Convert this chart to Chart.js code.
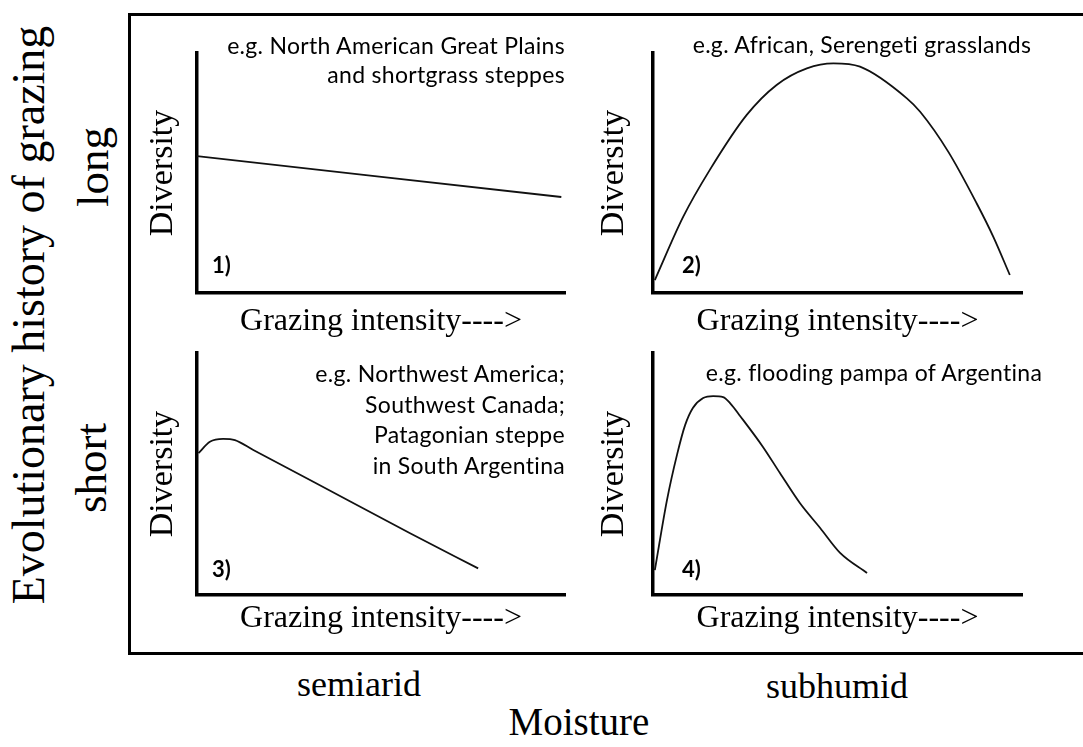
<!DOCTYPE html>
<html>
<head>
<meta charset="utf-8">
<script src="https://cdn.jsdelivr.net/npm/chart.js@4.4.1/dist/chart.umd.min.js"></script>
<style>
  body { margin: 0; background: #fff; width: 1083px; height: 747px; position: relative; overflow: hidden; font-family: 'Liberation Serif', 'Times New Roman', serif; color: #000; }
  .frame { position: absolute; left: 128px; top: 13px; width: 1000px; height: 642px; box-sizing: border-box; border: 3.5px solid #000; border-right: none; }
  canvas { position: absolute; }
  .note { position: absolute; font-family: Lato, sans-serif; font-size: 23px; letter-spacing: 0.3px; line-height: 29px; white-space: nowrap; }
  .num { position: absolute; font-family: Lato, sans-serif; font-weight: 700; font-size: 22px; line-height: 22px; }
  .lbl { position: absolute; white-space: nowrap; line-height: 1; transform: translate(-50%, -50%); }
  .rot { transform: translate(-50%, -50%) rotate(-90deg); }
</style>
</head>
<body>
<div class="frame"></div>

<canvas id="p1" width="424" height="298" style="left:146px; top:40px;"></canvas>
<canvas id="p2" width="430" height="298" style="left:597px; top:40px;"></canvas>
<canvas id="p3" width="424" height="295" style="left:146px; top:340px;"></canvas>
<canvas id="p4" width="430" height="295" style="left:597px; top:340px;"></canvas>

<div class="note" style="right:518px; top:31px; text-align:right;">e.g. North American Great Plains<br>and shortgrass steppes</div>
<div class="note" style="left:862px; top:30px; transform:translateX(-50%);">e.g. African, Serengeti grasslands</div>
<div class="note" style="right:518px; top:358px; text-align:right; line-height:30.5px;">e.g. Northwest America;<br>Southwest Canada;<br>Patagonian steppe<br>in South Argentina</div>
<div class="note" style="left:874px; top:358px; transform:translateX(-50%);">e.g. flooding pampa of Argentina</div>

<div class="num" style="left:212px; top:254px;">1)</div>
<div class="num" style="left:682px; top:254px;">2)</div>
<div class="num" style="left:212px; top:558px;">3)</div>
<div class="num" style="left:682px; top:558px;">4)</div>

<div class="lbl rot" style="left:29px; top:315px; font-size:46px;">Evolutionary history of grazing</div>
<div class="lbl rot" style="left:93px; top:167px; font-size:45px;">long</div>
<div class="lbl rot" style="left:91px; top:468px; font-size:45px;">short</div>
<div class="lbl" style="left:359px; top:684px; font-size:36px;">semiarid</div>
<div class="lbl" style="left:837px; top:686px; font-size:36px;">subhumid</div>
<div class="lbl" style="left:579px; top:721px; font-size:39px;">Moisture</div>

<script>
// grazing intensity (x) and diversity (y), both on a 0-100 scale
const intensity1 = [0, 99];
const diversity1 = [57, 40];

const intensity2 = [0.5, 8.2, 15.4, 25.4, 33.5, 41.7, 48.9, 56.1, 68.8, 72.4, 80.0, 87.7, 92.2, 96.7];
const diversity2 = [5.4, 31.8, 51.3, 74.2, 86.7, 93.6, 95.7, 94.3, 81.1, 75.5, 58.9, 37.4, 23.5, 7.5];

const intensity3 = [0.4, 3.5, 7.1, 10.3, 15.3, 31.6, 57.9, 76.4];
const diversity3 = [58.6, 63.3, 64.5, 64.0, 59.9, 46.8, 25.5, 11.0];

const intensity4 = [0.5, 3.8, 6.5, 8.7, 10.8, 13.6, 16.3, 19.0, 21.1, 23.6, 29.8, 34.4, 39.8, 45.3, 50.7, 58.0];
const diversity4 = [10.3, 39.3, 57.9, 70.2, 77.3, 81.4, 82.2, 81.8, 78.9, 74.0, 61.2, 50.4, 38.0, 27.7, 17.4, 9.1];

const xLabel = 'Grazing intensity---->';
const yLabel = 'Diversity';

Chart.defaults.font.family = "'Liberation Serif', 'Times New Roman', serif";
Chart.defaults.color = '#000';

// space reserved for each axis, so the plot boxes line up with the figure
const boxes = {
    p1: { pt: 13, pr: 5, wy: 51, hx: 45 },
    p2: { pt: 13, pr: 5, wy: 56, hx: 45 },
    p3: { pt: 13, pr: 5, wy: 51, hx: 40 },
    p4: { pt: 13, pr: 5, wy: 56, hx: 40 },
};

const panel = (id, xs, ys) => {
    const box = boxes[id];
    return new Chart(document.getElementById(id), {
        type: 'line',
        data: {
            datasets: [{
                data: xs.map((x, i) => ({ x, y: ys[i] })),
                borderColor: '#111',
                borderWidth: 1.8,
                pointRadius: 0,
                cubicInterpolationMode: 'monotone',
            }],
        },
        options: {
            responsive: false,
            animation: false,
            events: [],
            layout: {
                padding: { top: box.pt, right: box.pr, left: 0, bottom: 0 },
            },
            plugins: {
                legend: { display: false },
                tooltip: { enabled: false },
            },
            scales: {
                x: {
                    type: 'linear',
                    min: 0,
                    max: 100,
                    grid: { display: false },
                    ticks: { display: false },
                    border: { color: '#000', width: 3.5 },
                    title: { display: true, text: xLabel, font: { size: 32, lineHeight: 1 }, padding: 0 },
                    afterFit: (s) => { s.height = box.hx; },
                },
                y: {
                    min: 0,
                    max: 100,
                    grid: { display: false },
                    ticks: { display: false },
                    border: { color: '#000', width: 3.5 },
                    title: { display: true, text: yLabel, font: { size: 34, lineHeight: 1 }, padding: 0 },
                    afterFit: (s) => { s.width = box.wy; },
                },
            },
        },
    });
};

panel('p1', intensity1, diversity1);
panel('p2', intensity2, diversity2);
panel('p3', intensity3, diversity3);
panel('p4', intensity4, diversity4);
</script>
</body>
</html>
